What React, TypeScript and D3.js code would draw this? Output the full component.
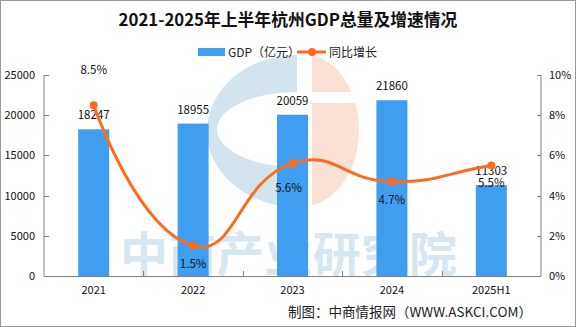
import React from "react";
import * as d3 from "d3";

const categories = ["2021", "2022", "2023", "2024", "2025H1"];
const gdpValues = [18247, 18955, 20059, 21860, 11303];
const growthValues = [8.5, 1.5, 5.6, 4.7, 5.5];
const leftTicks = [0, 5000, 10000, 15000, 20000, 25000];
const rightTicks = [0, 2, 4, 6, 8, 10];
const title = "2021-2025年上半年杭州GDP总量及增速情况";
const legendBar = "GDP（亿元）";
const legendLine = "同比增长";
const footer = "制图：中商情报网（WWW.ASKCI.COM）";
const watermark = "中商产业研究院";

const W = 576;
const H = 327;
const M = { left: 44, right: 541, top: 75, bottom: 276 };
const BAR = "#409EF0";
const LINE = "#FF6A1E";
const AXIS = "#808080";
const FONT = "'Noto Sans CJK SC', 'Noto Sans', sans-serif";

function smoothPath(pts: [number, number][], smooth = 0.5) {
  const p = d3.path();
  const cps = pts.map((pt, i) => {
    const prev = pts[i - 1] ?? pt;
    const next = pts[i + 1] ?? pt;
    const vx = (next[0] - prev[0]) * smooth;
    const vy = (next[1] - prev[1]) * smooth;
    const lp = Math.hypot(pt[0] - prev[0], pt[1] - prev[1]);
    const ln = Math.hypot(next[0] - pt[0], next[1] - pt[1]);
    const r = lp + ln === 0 ? 0.5 : ln / (lp + ln);
    if (i === 0) return { c0: pt, c1: pt };
    return {
      c0: [pt[0] - vx * (1 - r), pt[1] - vy * (1 - r)] as [number, number],
      c1: [pt[0] + vx * r, pt[1] + vy * r] as [number, number],
    };
  });
  p.moveTo(pts[0][0], pts[0][1]);
  for (let i = 1; i < pts.length; i++) {
    p.bezierCurveTo(cps[i - 1].c1[0], cps[i - 1].c1[1], cps[i].c0[0], cps[i].c0[1], pts[i][0], pts[i][1]);
  }
  return p.toString();
}

export default function App() {
  const x = d3.scaleBand<string>().domain(categories).range([M.left, M.right]).padding(0);
  const yL = d3.scaleLinear().domain([0, 25000]).range([M.bottom, M.top]);
  const yR = d3.scaleLinear().domain([0, 10]).range([M.bottom, M.top]);
  const barW = 31;
  const cx = (c: string) => (x(c) as number) + x.bandwidth() / 2;
  const pts = categories.map((c, i) => [cx(c), yR(growthValues[i])] as [number, number]);
  const pctDy = (i: number) => (i === 0 ? -31 : i === 2 ? 29 : 22);

  // logo geometry
  const lcx = 297, lcy = 131;
  const blueRing = `M${lcx},${lcy - 76} A90,76 0 0 0 ${lcx},${lcy + 76} L${lcx},${lcy + 37.5 - 1.5} A80,37.5 0 0 1 ${lcx},${lcy - 37.5 - 1.5} Z`;
  const ox = 312;
  const orange = `M${ox},${lcy - 76} A56,76 0 0 1 ${ox},${lcy + 74} Z`;

  return (
    <svg width={W} height={H} style={{ position: "absolute", left: 0, top: 0, background: "#fff" }} fontFamily={FONT}>
      <rect x={0} y={0} width={W} height={H} fill="#fff" />
      {/* watermark logo */}
      <path d={blueRing} fill="#D3E4EF" fillRule="evenodd" />
      <path d={orange} fill="#F9E1D6" />
      <rect x={ox} y={92} width={46} height={11} fill="#fff" />
      <text x={120} y={272} fontSize={48} fill="#D6E7F1" fontWeight="bold" textLength={337}>
        {watermark}
      </text>

      {/* title */}
      <text x={288} y={26} textAnchor="middle" fontSize={16.8} fontWeight="bold" fill="#111">
        {title}
      </text>

      {/* legend */}
      <rect x={198} y={48} width={27} height={8} fill={BAR} />
      <text x={228} y={56.5} fontSize={12} fill="#222">{legendBar}</text>
      <line x1={297} x2={326} y1={52} y2={52} stroke={LINE} strokeWidth={3} />
      <circle cx={312} cy={52} r={4} fill={LINE} />
      <text x={329} y={56.5} fontSize={12} fill="#222">{legendLine}</text>

      {/* bars */}
      {categories.map((c, i) => (
        <rect key={c} x={cx(c) - barW / 2} y={yL(gdpValues[i])} width={barW} height={M.bottom - yL(gdpValues[i])} fill={BAR} />
      ))}

      {/* axes */}
      <line x1={M.left} x2={M.left} y1={M.top} y2={M.bottom} stroke={AXIS} />
      <line x1={M.right} x2={M.right} y1={M.top} y2={M.bottom} stroke={AXIS} />
      <line x1={M.left} x2={M.right} y1={M.bottom + 0.5} y2={M.bottom + 0.5} stroke={AXIS} />
      {leftTicks.map((t) => (
        <g key={"l" + t}>
          <line x1={M.left} x2={M.left + 5} y1={Math.round(yL(t)) + 0.5} y2={Math.round(yL(t)) + 0.5} stroke={AXIS} />
          <text x={35} y={yL(t) + 4} textAnchor="end" fontSize={11} fill="#111">{t}</text>
        </g>
      ))}
      {rightTicks.map((t) => (
        <g key={"r" + t}>
          <line x1={M.right - 4} x2={M.right} y1={Math.round(yR(t)) + 0.5} y2={Math.round(yR(t)) + 0.5} stroke={AXIS} />
          <text x={549} y={yR(t) + 4} fontSize={11} fill="#111">{t}%</text>
        </g>
      ))}
      {categories.slice(1).map((c) => (
        <line key={"t" + c} x1={Math.round(x(c) as number) + 0.5} x2={Math.round(x(c) as number) + 0.5} y1={M.bottom - 5} y2={M.bottom} stroke={AXIS} />
      ))}
      {categories.map((c) => (
        <text key={"x" + c} x={cx(c)} y={294} textAnchor="middle" fontSize={11} fill="#111">{c}</text>
      ))}

      {/* bar labels */}
      {categories.map((c, i) => (
        <text key={"bl" + c} x={cx(c)} y={yL(gdpValues[i]) - 10} textAnchor="middle" fontSize={11.5} fill="#111">
          {gdpValues[i]}
        </text>
      ))}

      {/* line */}
      <path d={smoothPath(pts)} fill="none" stroke={LINE} strokeWidth={3} />
      {pts.map((p, i) => (
        <circle key={"p" + i} cx={p[0]} cy={p[1]} r={4} fill={LINE} />
      ))}
      {pts.map((p, i) => (
        <text key={"pl" + i} x={p[0] - (i === 2 ? 4 : 0)} y={p[1] + pctDy(i)} textAnchor="middle" fontSize={11.5} fill="#111">
          {growthValues[i].toFixed(1)}%
        </text>
      ))}

      {/* footer */}
      <text x={288} y={317} fontSize={13.5} fill="#222">{footer}</text>

      {/* border */}
      <rect x={0.5} y={0.5} width={W - 1} height={H - 1} fill="none" stroke="#999" />
    </svg>
  );
}
